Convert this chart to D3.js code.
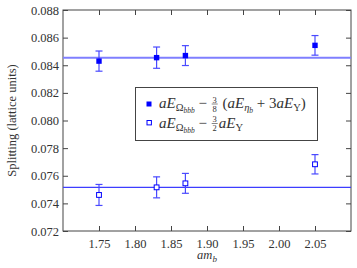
<!DOCTYPE html>
<html>
<head>
<meta charset="utf-8">
<script src="https://cdn.jsdelivr.net/npm/d3@7"></script>
<style>
body { margin: 0; background: #fff; }
svg text { font-family: "Liberation Serif", "DejaVu Serif", serif; fill: #333; }
</style>
</head>
<body>
<div id="chart"></div>
<script>
// values
var amb = [1.75, 1.83, 1.87, 2.05];
var splitA = [0.0843, 0.08455, 0.0847, 0.08544];
var errA = [0.00073, 0.00077, 0.00072, 0.00071];
var splitB = [0.07461, 0.07516, 0.07545, 0.07683];
var errB = [0.00076, 0.00076, 0.00072, 0.00070];
var fitA = 0.08455;
var fitB = 0.07516;
var xTicks = [1.75, 1.80, 1.85, 1.90, 1.95, 2.00, 2.05];
var yTicks = [0.072, 0.074, 0.076, 0.078, 0.080, 0.082, 0.084, 0.086, 0.088];

var width = 357, height = 268;
var mLeft = 63, mRight = 351, mTop = 10, mBottom = 231;

var svg = d3.select("#chart").append("svg")
	.attr("width", width).attr("height", height);

var x = d3.scaleLinear().domain([1.70, 2.10]).range([mLeft, mRight]);
var y = d3.scaleLinear().domain([0.072, 0.088]).range([mBottom, mTop]);

// frame
svg.append("rect")
	.attr("x", mLeft).attr("y", mTop)
	.attr("width", mRight - mLeft).attr("height", mBottom - mTop)
	.attr("fill", "none").attr("stroke", "#444").attr("stroke-width", 1);

// ticks, inward on all four sides
var tl = 5;
svg.append("g").attr("transform", "translate(0," + mBottom + ")")
	.call(d3.axisBottom(x).tickValues(xTicks).tickSize(-tl).tickPadding(8).tickFormat(d3.format(".2f")))
	.call(g => g.select(".domain").remove());
svg.append("g").attr("transform", "translate(0," + mTop + ")")
	.call(d3.axisTop(x).tickValues(xTicks).tickSize(-tl).tickFormat(""))
	.call(g => g.select(".domain").remove());
svg.append("g").attr("transform", "translate(" + mLeft + ",0)")
	.call(d3.axisLeft(y).tickValues(yTicks).tickSize(-tl).tickPadding(4).tickFormat(d3.format(".3f")))
	.call(g => g.select(".domain").remove());
svg.append("g").attr("transform", "translate(" + mRight + ",0)")
	.call(d3.axisRight(y).tickValues(yTicks).tickSize(-tl).tickFormat(""))
	.call(g => g.select(".domain").remove());
svg.selectAll("g").attr("font-family", null);
svg.selectAll(".tick line").attr("stroke", "#444");
svg.selectAll(".tick text").attr("font-size", 12.5).attr("fill", "#333");

// axis titles
svg.append("text")
	.attr("transform", "translate(12," + ((mTop + mBottom) / 2) + ") rotate(-90)")
	.attr("text-anchor", "middle").attr("dy", "0.35em")
	.attr("font-size", 12.5)
	.text("Splitting (lattice units)");
var xl = svg.append("text")
	.attr("x", (mLeft + mRight) / 2).attr("y", 259)
	.attr("text-anchor", "middle").attr("font-size", 12.5);
xl.append("tspan").attr("font-style", "italic").text("am");
xl.append("tspan").attr("font-style", "italic").attr("font-size", 9).attr("dy", 3).text("b");

// fit lines
svg.append("line")
	.attr("x1", mLeft).attr("x2", mRight)
	.attr("y1", y(fitA)).attr("y2", y(fitA))
	.attr("stroke", "#7f7fff").attr("stroke-width", 2);
svg.append("line")
	.attr("x1", mLeft).attr("x2", mRight)
	.attr("y1", y(fitB)).attr("y2", y(fitB))
	.attr("stroke", "#3d3dff").attr("stroke-width", 1.1);

function errorBars(vals, errs) {
	var g = svg.append("g").attr("stroke", "#4a4aff").attr("stroke-width", 1.2);
	amb.forEach(function (m, i) {
		var cx = x(m), y1 = y(vals[i] + errs[i]), y2 = y(vals[i] - errs[i]);
		g.append("line").attr("x1", cx).attr("x2", cx).attr("y1", y1).attr("y2", y2);
		g.append("line").attr("x1", cx - 3.5).attr("x2", cx + 3.5).attr("y1", y1).attr("y2", y1);
		g.append("line").attr("x1", cx - 3.5).attr("x2", cx + 3.5).attr("y1", y2).attr("y2", y2);
	});
}
errorBars(splitA, errA);
errorBars(splitB, errB);

svg.selectAll(".ptA").data(amb).enter().append("rect")
	.attr("x", d => x(d) - 2.7)
	.attr("y", (d, i) => y(splitA[i]) - 2.7)
	.attr("width", 5.4).attr("height", 5.4)
	.attr("fill", "#0000ff");
svg.selectAll(".ptB").data(amb).enter().append("rect")
	.attr("x", d => x(d) - 2.4)
	.attr("y", (d, i) => y(splitB[i]) - 2.4)
	.attr("width", 4.8).attr("height", 4.8)
	.attr("fill", "#fff").attr("stroke", "#0000ff").attr("stroke-width", 1);

// legend
var lg = svg.append("g");
lg.append("rect")
	.attr("x", 135.5).attr("y", 87.5).attr("width", 182).attr("height", 53)
	.attr("fill", "#fff").attr("stroke", "#444").attr("stroke-width", 1);
lg.append("rect").attr("x", 146.5).attr("y", 101.5).attr("width", 5).attr("height", 5).attr("fill", "#0000ff");
lg.append("rect").attr("x", 147).attr("y", 120.5).attr("width", 4.4).attr("height", 4.4)
	.attr("fill", "#fff").attr("stroke", "#0000ff").attr("stroke-width", 1);

var fs = 15;
// parts: [text, italic, size factor, baseline shift]
function mathRun(x0, base, parts) {
	var t = lg.append("text").attr("x", x0).attr("y", base).attr("font-size", fs);
	parts.forEach(function (p) {
		t.append("tspan")
			.attr("y", base + (p[3] || 0))
			.attr("font-style", p[1] ? "italic" : "normal")
			.attr("font-size", fs * (p[2] || 1))
			.style("white-space", "pre")
			.text(p[0]);
	});
	return x0 + t.node().getComputedTextLength();
}
function frac(x0, base, n, d) {
	var w = 6;
	lg.append("text").attr("x", x0 + w / 2).attr("y", base - 5.5).attr("text-anchor", "middle").attr("font-size", 8.5).text(n);
	lg.append("text").attr("x", x0 + w / 2).attr("y", base + 3.5).attr("text-anchor", "middle").attr("font-size", 8.5).text(d);
	lg.append("line").attr("x1", x0).attr("x2", x0 + w).attr("y1", base - 4).attr("y2", base - 4)
		.attr("stroke", "#333").attr("stroke-width", 0.6);
	return x0 + w;
}
var omega = [["a", 1], ["E", 1], ["\u03A9", 0, 0.7, 3], ["bbb", 1, 0.5, 5]];
var b1 = 108, b2 = 127.5;
var px = mathRun(159, b1, omega.concat([[" \u2212 ", 0]]));
px = frac(px + 1, b1, "3", "8");
mathRun(px + 1, b1, [[" (", 0], ["a", 1], ["E", 1], ["\u03B7", 1, 0.7, 3], ["b", 1, 0.5, 5],
	[" + 3", 0], ["a", 1], ["E", 1], ["\u03A5", 0, 0.7, 3], [")", 0]]);
px = mathRun(159, b2, omega.concat([[" \u2212 ", 0]]));
px = frac(px + 1, b2, "3", "2");
mathRun(px + 1, b2, [["a", 1], ["E", 1], ["\u03A5", 0, 0.7, 3]]);
</script>
</body>
</html>
